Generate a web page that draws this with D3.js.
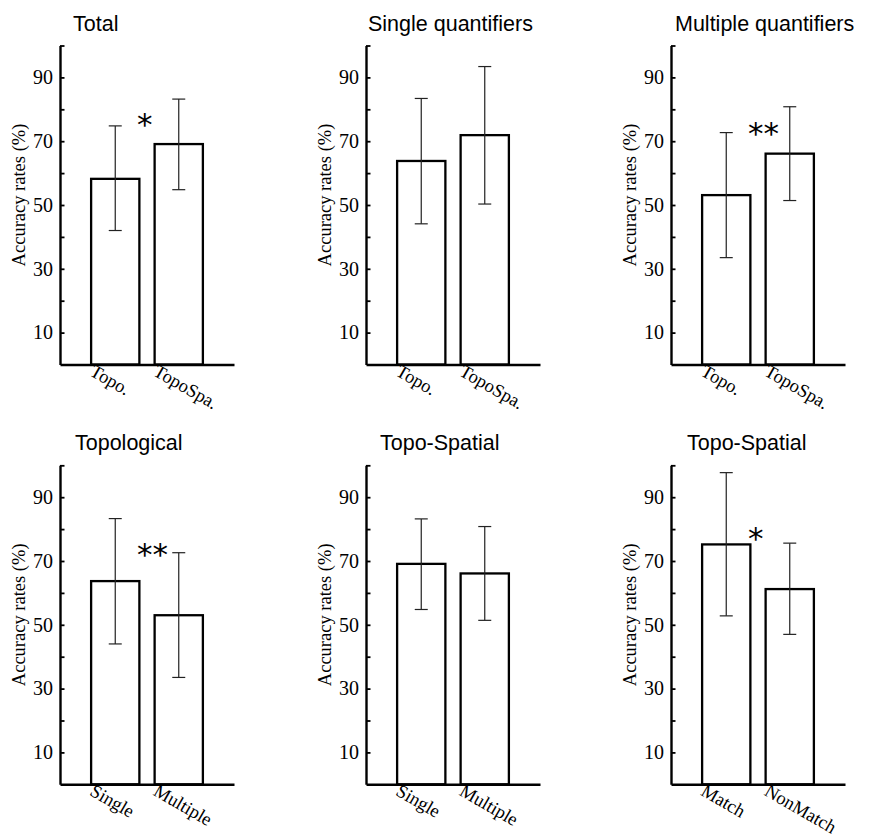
<!DOCTYPE html>
<html>
<head>
<meta charset="utf-8">
<script src="https://cdn.jsdelivr.net/npm/d3@7"></script>
<style>
  body { margin: 0; background: #fff; }
</style>
</head>
<body>
<div id="chart"></div>
<script>
// panel data
var titles = ["Total", "Single quantifiers", "Multiple quantifiers", "Topological", "Topo-Spatial", "Topo-Spatial"];
var categories = [
    ["Topo.", "TopoSpa."], ["Topo.", "TopoSpa."], ["Topo.", "TopoSpa."],
    ["Single", "Multiple"], ["Single", "Multiple"], ["Match", "NonMatch"]
];
var means = [[58.2, 69.1], [63.8, 71.9], [53.1, 66.1], [63.7, 53.0], [69.1, 66.1], [75.2, 61.2]];
var errHigh = [[74.8, 83.2], [83.4, 93.4], [72.7, 80.8], [83.3, 72.6], [83.2, 80.8], [97.7, 75.6]];
var errLow = [[42.0, 54.8], [44.1, 50.3], [33.5, 51.4], [44.0, 33.5], [54.8, 51.4], [52.8, 47.0]];
var stars = ["*", "", "**", "**", "", "*"];
var starLevel = [77.3, null, 74.5, 74.3, null, 79.2];
var yTicks = [10, 30, 50, 70, 90];
var yMinor = [10, 20, 30, 40, 50, 60, 70, 80, 90, 100];

// layout
var width = 871, height = 837;
var colX = [60, 366, 671];
var rowBase = [364.5, 784.3];
var plotH = 319, plotW = 174;
var titleDx = [13, 2, 4, 15, 14, 16];

var svg = d3.select("#chart")
    .append("svg")
    .attr("width", width)
    .attr("height", height);

titles.forEach(function (title, i) {
    var g = svg.append("g")
        .attr("transform", "translate(" + colX[i % 3] + "," + (rowBase[Math.floor(i / 3)] - plotH) + ")");

    var y = d3.scaleLinear().domain([0, 100]).range([plotH, 0]);
    var x = d3.scaleBand()
        .domain(categories[i])
        .range([0, plotW])
        .paddingInner(0.24)
        .paddingOuter(0.49);

    // title
    g.append("text")
        .attr("x", titleDx[i])
        .attr("y", -15)
        .style("font-family", "'Liberation Sans', Arial, sans-serif")
        .style("font-size", "21.5px")
        .text(title);

    // bars
    g.selectAll("rect.bar")
        .data(categories[i])
        .enter()
        .append("rect")
        .attr("class", "bar")
        .attr("x", function (d) { return x(d); })
        .attr("y", function (d, j) { return y(means[i][j]); })
        .attr("width", x.bandwidth())
        .attr("height", function (d, j) { return y(0) - y(means[i][j]); })
        .attr("fill", "white")
        .attr("stroke", "black")
        .attr("stroke-width", 2.3);

    // error bars
    var eb = g.selectAll("g.err")
        .data(categories[i])
        .enter()
        .append("g")
        .attr("class", "err")
        .attr("stroke", "#222")
        .attr("stroke-width", 1.2);
    eb.append("line")
        .attr("x1", function (d) { return x(d) + x.bandwidth() / 2; })
        .attr("x2", function (d) { return x(d) + x.bandwidth() / 2; })
        .attr("y1", function (d, j) { return y(errLow[i][j]); })
        .attr("y2", function (d, j) { return y(errHigh[i][j]); });
    eb.append("line")
        .attr("x1", function (d) { return x(d) + x.bandwidth() / 2 - 6.5; })
        .attr("x2", function (d) { return x(d) + x.bandwidth() / 2 + 6.5; })
        .attr("y1", function (d, j) { return y(errHigh[i][j]); })
        .attr("y2", function (d, j) { return y(errHigh[i][j]); });
    eb.append("line")
        .attr("x1", function (d) { return x(d) + x.bandwidth() / 2 - 6.5; })
        .attr("x2", function (d) { return x(d) + x.bandwidth() / 2 + 6.5; })
        .attr("y1", function (d, j) { return y(errLow[i][j]); })
        .attr("y2", function (d, j) { return y(errLow[i][j]); });

    // y axis: inward minor ticks plus labels
    var yAxis = g.append("g")
        .call(d3.axisRight(y).tickValues(yMinor).tickSize(4.5).tickSizeOuter(0).tickFormat(""));
    yAxis.select(".domain").attr("stroke-width", 2.4);
    yAxis.selectAll(".tick line").attr("stroke-width", 1.8);

    g.selectAll("text.ytick")
        .data(yTicks)
        .enter()
        .append("text")
        .attr("class", "ytick")
        .attr("x", -7)
        .attr("y", function (d) { return y(d); })
        .attr("dy", "0.34em")
        .attr("text-anchor", "end")
        .style("font-family", "'Liberation Serif', 'Times New Roman', serif")
        .style("font-size", "20px")
        .text(function (d) { return d; });

    // y label
    g.append("text")
        .attr("transform", "translate(-35," + (plotH / 2 - 10) + ") rotate(-90)")
        .attr("text-anchor", "middle")
        .style("font-family", "'Liberation Serif', 'Times New Roman', serif")
        .style("font-size", "18.5px")
        .text("Accuracy rates (%)");

    // x axis line
    var xAxis = g.append("g")
        .attr("transform", "translate(0," + plotH + ")")
        .call(d3.axisBottom(x).tickSize(0).tickSizeOuter(0).tickFormat(""));
    xAxis.select(".domain").attr("stroke-width", 2.4);

    g.selectAll("text.xlab")
        .data(categories[i])
        .enter()
        .append("text")
        .attr("class", "xlab")
        .attr("transform", function (d) {
            return "translate(" + (x(d) + x.bandwidth() / 2 - 20) + "," + (plotH - 1) + ") rotate(30)";
        })
        .attr("dy", "0.7em")
        .style("font-family", "'Liberation Serif', 'Times New Roman', serif")
        .style("font-size", "18.5px")
        .text(function (d) { return d; });

    // significance marks
    if (stars[i]) {
        var gapMid = (x(categories[i][0]) + x.bandwidth() + x(categories[i][1])) / 2;
        g.append("text")
            .attr("x", gapMid - 10)
            .attr("y", y(starLevel[i]))
            .attr("dy", "0.56em")
            .style("font-family", "'DejaVu Sans', sans-serif")
            .style("font-size", "31px")
            .text(stars[i]);
    }
});
</script>
</body>
</html>
